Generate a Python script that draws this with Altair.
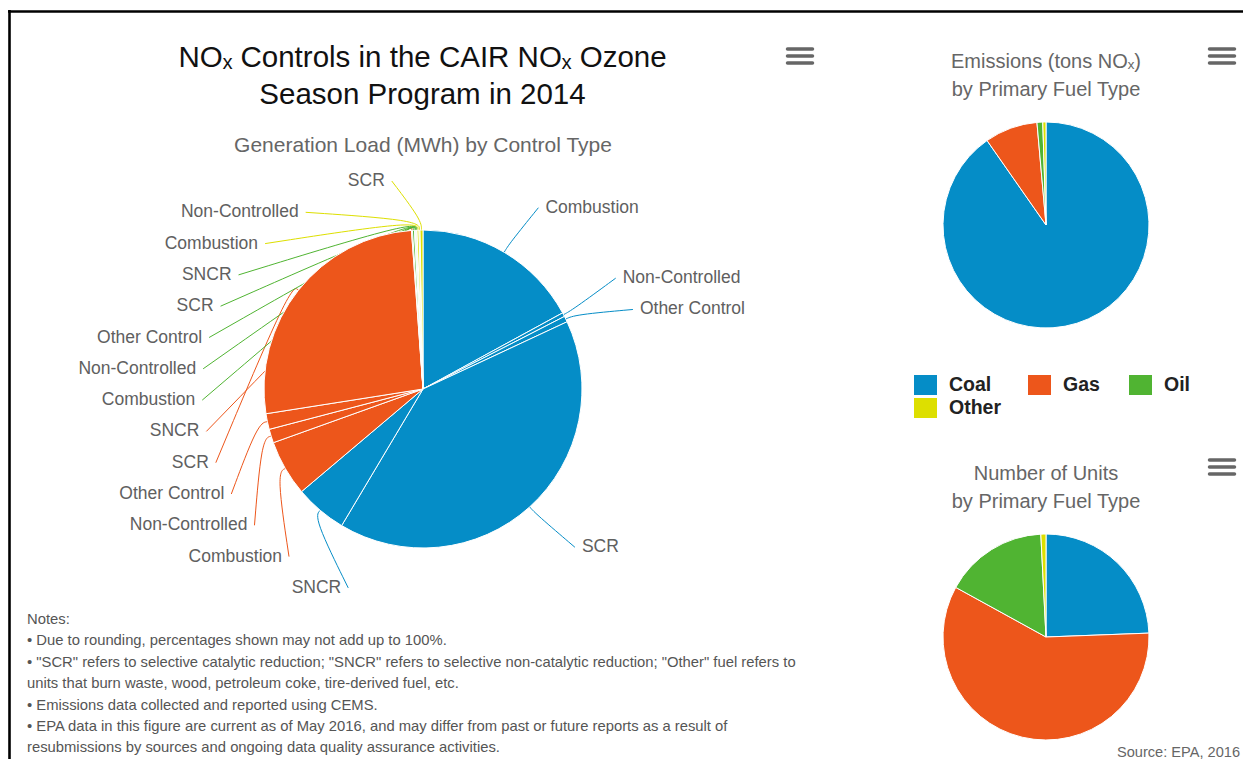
import math
import altair as alt
import pandas as pd

# ---------------- data ----------------
FUELS = ["Coal", "Gas", "Oil", "Other"]
FUEL_COLORS = ["#058DC7", "#ED561B", "#50B432", "#DDDF00"]

gen_fuel = ["Coal"] * 5 + ["Gas"] * 5 + ["Oil"] * 5 + ["Other"] * 3
gen_control = (["Combustion", "Non-Controlled", "Other Control", "SCR", "SNCR"] * 3
               + ["Combustion", "Non-Controlled", "SCR"])
gen_share = [17.1, 0.4, 0.6, 40.6, 5.3,
             5.7, 1.4, 1.6, 26.4, 0.1,
             0.2, 0.1, 0.03, 0.1, 0.03,
             0.2, 0.1, 0.3]

emis_share = [90.3, 8.3, 0.9, 0.5]
units_share = [24.4, 58.6, 16.2, 0.8]

title_lines = ["NOₓ Controls in the CAIR NOₓ Ozone", "Season Program in 2014"]
subtitle = "Generation Load (MWh) by Control Type"
emis_title = ["Emissions (tons NOₓ)", "by Primary Fuel Type"]
units_title = ["Number of Units", "by Primary Fuel Type"]
notes = [
    "Notes:",
    "• Due to rounding, percentages shown may not add up to 100%.",
    "• \"SCR\" refers to selective catalytic reduction; \"SNCR\" refers to selective non-catalytic reduction; \"Other\" fuel refers to",
    "units that burn waste, wood, petroleum coke, tire-derived fuel, etc.",
    "• Emissions data collected and reported using CEMS.",
    "• EPA data in this figure are current as of May 2016, and may differ from past or future reports as a result of",
    "resubmissions by sources and ongoing data quality assurance activities.",
]
source = "Source: EPA, 2016"

# ---------------- layout (page pixels) ----------------
OFF = 8
W, H = 1235, 751
FONT = "Liberation Sans"
MCX, MCY, MR = 423, 389, 159
ECX, ECY, ER = 1046, 225, 103
UCX, UCY, UR = 1046, 637, 103
LCY, LA, LB = 390, 228, 212          # label ellipse
GAP, YMIN, YMAX = 31.3, 181, 600

color_scale = alt.Scale(domain=FUELS, range=FUEL_COLORS)


def X(f):
    return alt.X(f, scale=None, axis=None)


def Y(f):
    return alt.Y(f, scale=None, axis=None)


# ---- slice geometry from the data ----
total = sum(gen_share)
cum = 0.0
slices = []
for i, (f, c, v) in enumerate(zip(gen_fuel, gen_control, gen_share)):
    mid = (cum + v / 2) / total * 2 * math.pi
    cum += v
    slices.append(dict(sid=i, fuel=f, control=c, mid=mid,
                       left=mid > math.pi,
                       ny=LCY - LB * math.cos(mid)))


def distribute(nys):
    clusters = [[i] for i in range(len(nys))]

    def top(cl):
        n = len(cl)
        t = sum(nys[i] for i in cl) / n - (n - 1) * GAP / 2
        return max(YMIN, min(t, YMAX - (n - 1) * GAP))

    changed = True
    while changed:
        changed = False
        for k in range(len(clusters) - 1):
            a, b = clusters[k], clusters[k + 1]
            if top(a) + len(a) * GAP > top(b):
                clusters[k] = a + b
                del clusters[k + 1]
                changed = True
                break
    ys = []
    for cl in clusters:
        t = top(cl)
        ys += [t + j * GAP for j in range(len(cl))]
    return ys


for side in (True, False):
    grp = sorted([s for s in slices if s["left"] == side], key=lambda s: s["ny"])
    ys = distribute([s["ny"] for s in grp])
    for s, y in zip(grp, ys):
        s["ly"] = y
        dy = y - LCY
        dx = LA * math.sqrt(max(0.0, 1 - (dy / LB) ** 2))
        if side:
            s["lx"] = MCX - dx
            s["ax"] = s["lx"] + 7
        else:
            s["lx"] = MCX + dx + 6
            s["ax"] = s["lx"] - 7

label_rows, line_rows = [], []
for s in slices:
    label_rows.append(dict(sid=s["sid"], fuel=s["fuel"], control=s["control"],
                           x=s["lx"] - OFF, y=s["ly"] - OFF, left=s["left"]))
    pts = [(s["ax"], s["ly"]),
           (MCX + (MR + 10) * math.sin(s["mid"]), MCY - (MR + 10) * math.cos(s["mid"])),
           (MCX + MR * math.sin(s["mid"]), MCY - MR * math.cos(s["mid"]))]
    for k, (px, py) in enumerate(pts):
        line_rows.append(dict(sid=s["sid"], fuel=s["fuel"], pt=k, x=px - OFF, y=py - OFF))

labels_df = pd.DataFrame(label_rows)
lines_df = pd.DataFrame(line_rows)

main_df = pd.DataFrame(dict(idx=range(len(gen_share)), fuel=gen_fuel,
                            control=gen_control, share=gen_share))
emis_df = pd.DataFrame(dict(idx=range(4), fuel=FUELS, share=emis_share))
units_df = pd.DataFrame(dict(idx=range(4), fuel=FUELS, share=units_share))


def pie(df, cx, cy, r):
    return alt.Chart(df).mark_arc(outerRadius=r, stroke="#ffffff", strokeWidth=1).encode(
        theta=alt.Theta("share:Q", stack=True),
        color=alt.Color("fuel:N", scale=color_scale, legend=None),
        order=alt.Order("idx:Q", sort="ascending"),
        x=alt.value(cx - OFF), y=alt.value(cy - OFF),
    )


def texts(items, **kw):
    df = pd.DataFrame([dict(t=t, x=x - OFF, y=y - OFF) for t, x, y in items])
    return alt.Chart(df).mark_text(baseline="middle", **kw).encode(
        x=X("x:Q"), y=Y("y:Q"), text="t:N")


def rules(segs, **kw):
    df = pd.DataFrame([dict(x1=a - OFF, y1=b - OFF, x2=c - OFF, y2=d - OFF)
                       for a, b, c, d in segs])
    return alt.Chart(df).mark_rule(**kw).encode(
        x=X("x1:Q"), y=Y("y1:Q"), x2="x2:Q", y2="y2:Q")


connectors = alt.Chart(lines_df).mark_line(strokeWidth=1, interpolate="basis").encode(
    x=X("x:Q"), y=Y("y:Q"), detail="sid:N", order=alt.Order("pt:Q"),
    color=alt.Color("fuel:N", scale=color_scale, legend=None))

lab_left = alt.Chart(labels_df[labels_df.left]).mark_text(
    align="right", baseline="middle", font=FONT, fontSize=17.5, color="#606060").encode(
    x=X("x:Q"), y=Y("y:Q"), text="control:N")
lab_right = alt.Chart(labels_df[~labels_df.left]).mark_text(
    align="left", baseline="middle", font=FONT, fontSize=17.5, color="#606060").encode(
    x=X("x:Q"), y=Y("y:Q"), text="control:N")

title = texts([(title_lines[0], 422.5, 58), (title_lines[1], 422.5, 95)],
              align="center", font=FONT, fontSize=29.5, color="#111111")
sub = texts([(subtitle, 423, 146)], align="center", font=FONT, fontSize=21, color="#666666")
small_titles = texts([(emis_title[0], 1046, 62), (emis_title[1], 1046, 90),
                      (units_title[0], 1046, 474), (units_title[1], 1046, 502)],
                     align="center", font=FONT, fontSize=20, color="#666666")
note_text = texts([(t, 27, 620 + i * 21.4) for i, t in enumerate(notes)],
                  align="left", font=FONT, fontSize=14.8, color="#555555")
src = texts([(source, 1240, 753)], align="right", font=FONT, fontSize=14.6, color="#666666")

# legend
leg_pos = [(914, 385), (1028, 385), (1129, 385), (914, 408)]
leg_df = pd.DataFrame([dict(fuel=f, x1=x - OFF, x2=x + 23 - OFF, y1=y - 10 - OFF, y2=y + 10 - OFF,
                            tx=x + 35 - OFF, ty=y - OFF) for f, (x, y) in zip(FUELS, leg_pos)])
leg_sq = alt.Chart(leg_df).mark_rect().encode(
    x=X("x1:Q"), x2="x2:Q", y=Y("y1:Q"), y2="y2:Q",
    color=alt.Color("fuel:N", scale=color_scale, legend=None))
leg_tx = alt.Chart(leg_df).mark_text(align="left", baseline="middle", font=FONT,
                                     fontSize=19.5, fontWeight="bold", color="#222222").encode(
    x=X("tx:Q"), y=Y("ty:Q"), text="fuel:N")

# hamburger menus and frame
menu = []
for (mx, my) in [(786, 49), (1208, 49), (1208, 460)]:
    for k in range(3):
        menu.append((mx + 1.5, my + k * 7, mx + 26.5, my + k * 7))
menus = rules(menu, strokeWidth=3.5, color="#666666", strokeCap="round")
frame = rules([(8, 11.5, 1251, 11.5), (9.5, 10, 9.5, 767)], strokeWidth=2.6, color="#000000")

chart = alt.layer(
    frame,
    connectors,
    pie(main_df, MCX, MCY, MR),
    pie(emis_df, ECX, ECY, ER),
    pie(units_df, UCX, UCY, UR),
    lab_left, lab_right, title, sub, small_titles, note_text, src,
    leg_sq, leg_tx, menus,
).resolve_scale(theta="independent").properties(
    width=W, height=H, padding=0,
    autosize=alt.AutoSizeParams(type="none"),
    background="#ffffff",
).configure_view(stroke=None)

chart.save("out.html", embed_options={"renderer": "svg", "actions": False})
